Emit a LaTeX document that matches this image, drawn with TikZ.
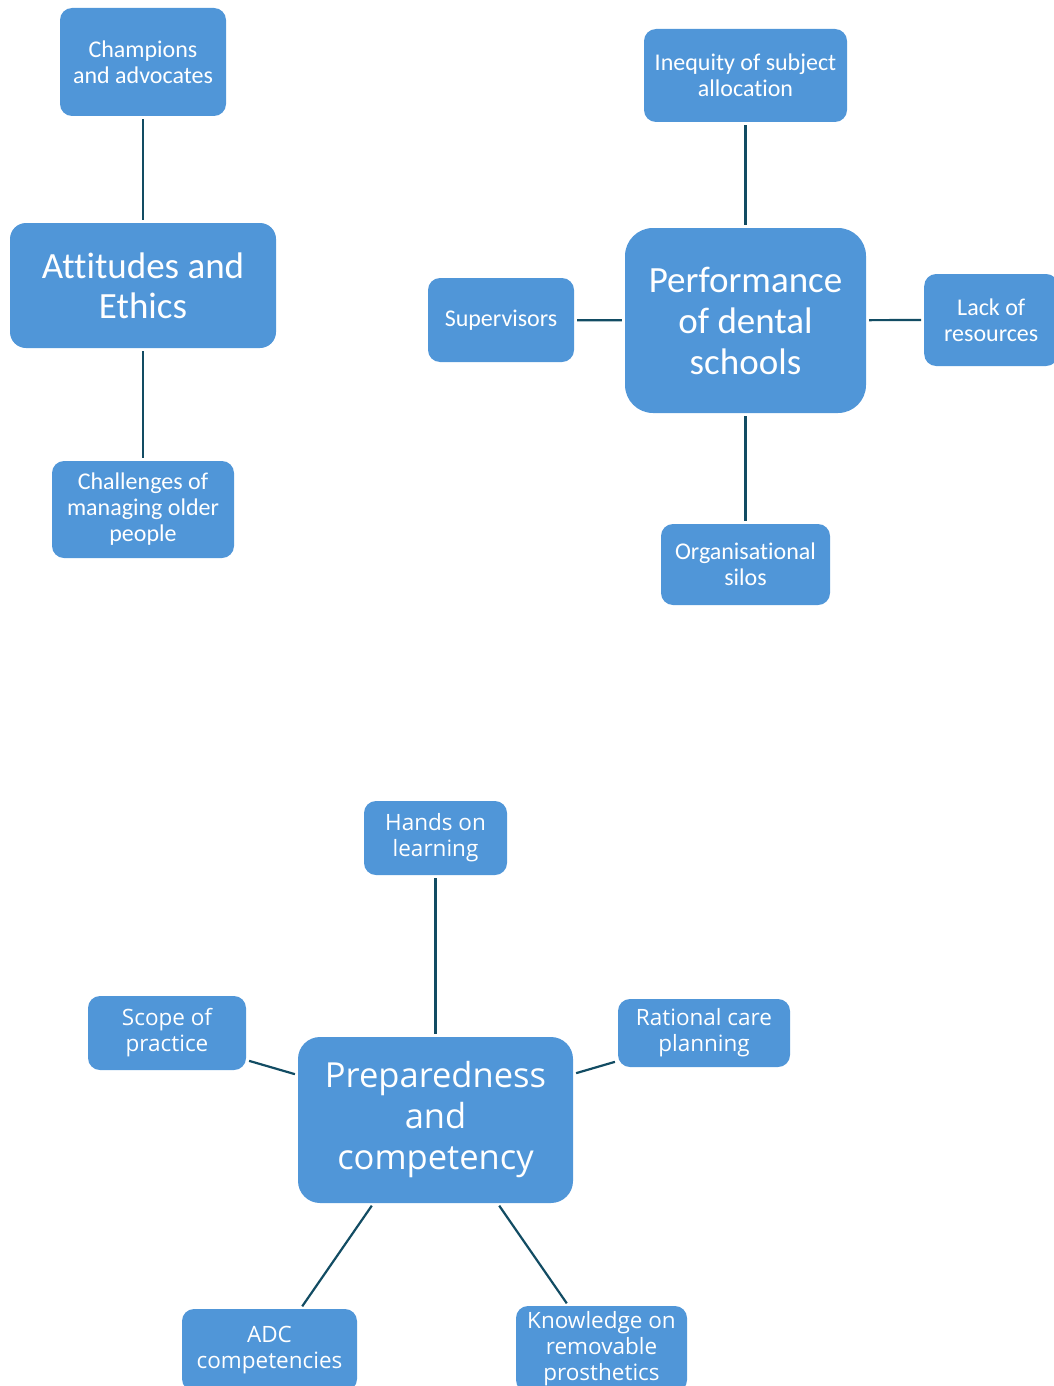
\documentclass[tikz,border=0pt]{standalone}
\usepackage{fontspec}
\setmainfont[Ligatures=NoCommon]{Carlito}
\newfontfamily\lowfont{Open Sans}
\definecolor{boxblue}{HTML}{5096D8}
\definecolor{linkteal}{HTML}{124C63}
\tikzset{
  topic/.style={fill=boxblue, text=white, align=center, inner sep=0pt,
    rounded corners=12pt},
  smalltxt/.style={font=\fontsize{24}{26}\selectfont},
  bigtxt/.style={font=\fontsize{37}{40}\selectfont},
  lowsmall/.style={font=\lowfont\fontsize{22.5}{26}\selectfont},
  lowbig/.style={font=\lowfont\fontsize{34.5}{41}\selectfont},
  link/.style={draw=linkteal, line width=2.2pt, shorten <=3pt, shorten >=3pt}
}
\begin{document}
\begin{tikzpicture}[x=1pt, y=-1pt]
\useasboundingbox (0,0) rectangle (1054,1386);

% Attitudes and Ethics cluster
\node[topic, smalltxt, minimum width=166pt, minimum height=108pt] (champ) at (143,62) {Champions\\and advocates};
\node[topic, bigtxt, minimum width=266pt, minimum height=125pt, rounded corners=16pt] (att) at (143,285.5) {Attitudes and\\Ethics};
\node[topic, smalltxt, minimum width=182pt, minimum height=97pt] (chal) at (143,509.5) {Challenges of\\managing older\\people};
\draw[link] (champ) -- (att);
\draw[link] (att) -- (chal);

% Performance of dental schools cluster
\node[topic, smalltxt, minimum width=203pt, minimum height=93pt] (ineq) at (745.5,75.5) {Inequity of subject\\allocation};
\node[topic, font=\fontsize{37}{41}\selectfont, minimum width=241pt, minimum height=185pt, rounded corners=28pt] (perf) at (745.5,320.5) {Performance\\of dental\\schools};
\node[topic, smalltxt, minimum width=146pt, minimum height=84pt] (sup) at (501,320) {Supervisors};
\node[topic, smalltxt, minimum width=134pt, minimum height=92pt, anchor=west] (lack) at (924,320) {Lack of\\resources};
\node[topic, smalltxt, minimum width=169pt, minimum height=81pt] (silo) at (745.5,564.5) {Organisational\\silos};
\draw[link] (ineq) -- (perf);
\draw[link] (perf) -- (silo);
\draw[link] (sup) -- (perf);
\draw[link] (perf) -- (lack.west);

% Preparedness and competency cluster
\node[topic, lowbig, minimum width=275pt, minimum height=166pt, rounded corners=22pt] (prep) at (435.5,1120) {Preparedness\\and\\competency};
\node[topic, lowsmall, minimum width=143pt, minimum height=74pt] (hands) at (435.5,838) {Hands on\\learning};
\node[topic, lowsmall, minimum width=158pt, minimum height=74pt] (scope) at (167,1033) {Scope of\\practice};
\node[topic, lowsmall, minimum width=172pt, minimum height=68pt] (rat) at (704,1033) {Rational care\\planning};
\node[topic, lowsmall, minimum width=175pt, minimum height=82pt] (adc) at (269.5,1350) {ADC\\competencies};
\node[topic, lowsmall, minimum width=171pt, minimum height=86pt] (know) at (601.5,1349) {Knowledge on\\removable\\prosthetics};
\draw[link] (hands) -- (prep);
\draw[link] ([yshift=-27pt]scope.east) -- ([yshift=45pt]prep.west);
\draw[link] ([yshift=-28pt]rat.west) -- ([yshift=46pt]prep.east);
\draw[link] ([xshift=-62pt]prep.south) -- ([xshift=31pt]adc.north);
\draw[link] ([xshift=62pt]prep.south) -- ([xshift=-33pt]know.north);
\end{tikzpicture}
\end{document}
